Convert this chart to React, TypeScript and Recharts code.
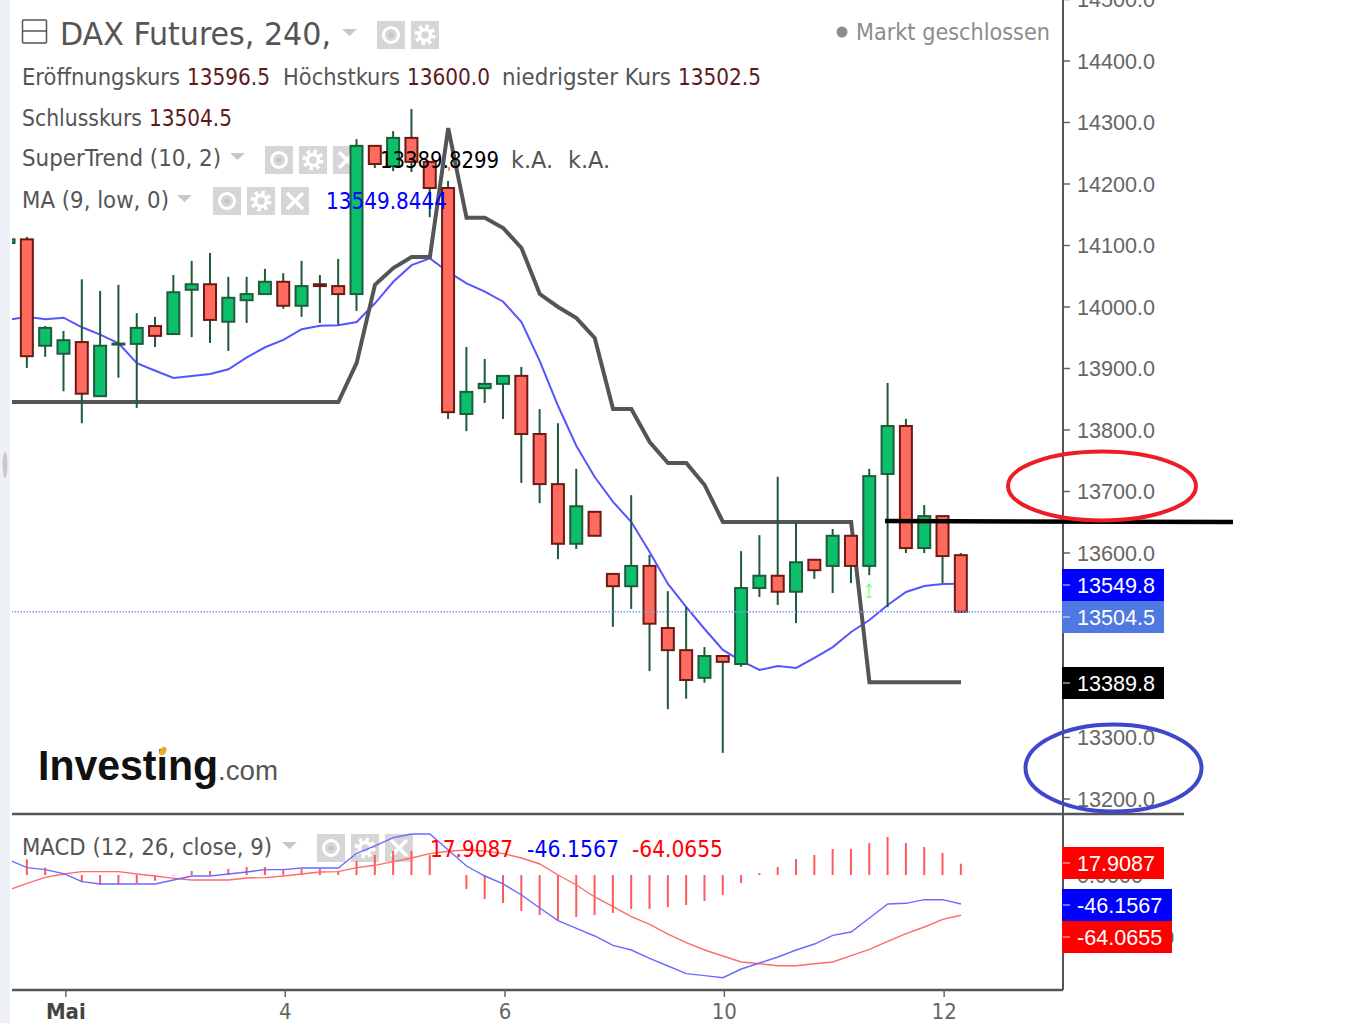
import { Bar, ComposedChart, Line, ReferenceLine, XAxis, YAxis } from 'recharts';

// index -1 is the candle cut off by the left edge of the plot
const firstIndex = -1;
const opens = [14104, 14110, 13937, 13924, 13943, 13855, 13939, 13940, 13969, 13956, 14028, 14037, 13976, 14011, 14021, 14041, 14002, 14037, 14034, 14021, 14262, 14229, 14275, 14236, 14193.5, 13826, 13868, 13875, 13888, 13793.5, 13712, 13615, 13667, 13566, 13546, 13579, 13478, 13442, 13397, 13432.5, 13419.5, 13543, 13563, 13537, 13589, 13579, 13628, 13579, 13728.5, 13806.5, 13608, 13660, 13596.5];
const highs = [14112, 14114, 13969, 13961, 14045, 14026, 14036, 13990, 13984, 14052, 14075, 14088, 14049, 14049, 14062, 14055, 14075, 14052, 14078, 14273, 14262, 14286, 14322, 14236, 14205, 13935, 13915.5, 13888, 13902.5, 13834, 13811, 13737, 13667, 13566, 13694, 13597, 13538, 13512, 13447, 13432.5, 13603, 13629, 13724, 13650, 13589, 13639, 13628, 13737, 13876.5, 13818, 13678, 13660, 13600];
const lows = [14100, 13901, 13919, 13863, 13811, 13855, 13885, 13836, 13935, 13956, 13951, 13941.5, 13928.5, 13974, 14021, 13997, 13984, 13974, 13971, 13993.5, 14226, 14221, 14219.5, 14146, 13818, 13798, 13844, 13818, 13714, 13681, 13590, 13606.5, 13628, 13480, 13509, 13408, 13346, 13363, 13389, 13275, 13415, 13528.5, 13515.5, 13486, 13558, 13535, 13551, 13564, 13512, 13600, 13600, 13551, 13502.5];
const closes = [14110, 13920, 13966, 13946, 13859, 13937, 13940.5, 13966, 13953, 14024, 14037, 13979, 14015, 14021, 14041, 14002, 14034, 14034, 14021, 14262, 14232.5, 14275, 14236, 14193.5, 13829, 13862, 13875, 13888, 13793.5, 13712, 13615, 13676, 13628, 13546, 13579, 13485, 13442, 13393.5, 13432.5, 13423, 13543, 13563, 13537, 13585, 13572, 13628, 13579, 13725, 13806.5, 13608, 13660, 13595, 13504.5];
const superTrend = [13845.5, 13845.5, 13845.5, 13845.5, 13845.5, 13845.5, 13845.5, 13845.5, 13845.5, 13845.5, 13845.5, 13845.5, 13845.5, 13845.5, 13845.5, 13845.5, 13845.5, 13845.5, 13845.5, 13909, 14036, 14063.4, 14081.3, 14081.3, 14291, 14145, 14145, 14128.5, 14096, 14021, 14000, 13982, 13949.6, 13834, 13834, 13780.5, 13746.4, 13746.4, 13710.6, 13650.4, 13650.4, 13650.4, 13650.4, 13650.4, 13650.4, 13650.4, 13650.4, 13389.8, 13389.8, 13389.8, 13389.8, 13389.8, 13389.8];
const maLow = [13979, 13984, 13980, 13982.6, 13967, 13955, 13941, 13908.5, 13896.4, 13884.6, 13887.8, 13891, 13898.7, 13918, 13934.5, 13946.4, 13963.8, 13969.6, 13970.3, 13975.6, 14006, 14041, 14068, 14079, 14057, 14038.5, 14025, 14008.6, 13975.6, 13912, 13839, 13774, 13723.6, 13683, 13650.4, 13601.6, 13549.6, 13512, 13476.4, 13442.3, 13424.4, 13409.8, 13416.3, 13413, 13429.3, 13447, 13471.6, 13491, 13515.5, 13536.6, 13546.4, 13549.6, 13549.8];
const macdLine = [23.9, 11.7, 8.5, 2.1, -10.6, -14.3, -14.3, -14.3, -14.3, -8, -1.6, -1.6, 1.6, 4.8, 8.5, 8.5, 11.1, 11.1, 11.1, 34.5, 46.2, 59.4, 65.3, 65.3, 39.8, 14.3, -1.6, -14.3, -31.8, -52.5, -72.7, -84.9, -97.1, -112, -119.4, -132.7, -144.9, -157.1, -160.3, -163.5, -149.7, -140.1, -130.6, -119.4, -109.9, -96.1, -90.8, -68.5, -46.2, -45.1, -39.3, -39.3, -46.1567];
const signalLine = [-24, -13.3, -3.7, 1.6, 5.3, 5.3, 5.3, 1.6, -1.6, -5.3, -8, -8, -8, -4.8, -4.2, -1.6, 1.6, 4.8, 5.3, 11.7, 15.4, 21.2, 27.1, 34, 37.7, 39.8, 38.2, 34, 27.1, 17.5, 0, -15.9, -35, -50.4, -66.4, -78.6, -94, -107.8, -119.4, -129, -138.5, -141.2, -144.4, -144.4, -141.2, -138.5, -128.5, -118.4, -105.6, -93.4, -82.8, -70.6, -64.0655];
const histogram = [null, 25, 11.7, 1.5, -11.7, -15.4, -15.4, -13.2, -9.1, -1, 6.4, 6.4, 9.6, 12.7, 12.7, 9.6, 9.6, 9.6, 6.4, 22.3, 31.8, 38.2, 38.2, 31.8, 0, -22.3, -38.2, -44.6, -57.3, -63.7, -73.2, -66.9, -63.7, -60.5, -54.1, -54.1, -51, -47.8, -41.4, -31.8, -12.7, 3.2, 12.7, 25.5, 31.8, 41.4, 41.4, 51, 60.5, 51, 44.6, 35, 17.9087];

const priceTicks = [13200, 13300, 13400, 13500, 13600, 13700, 13800, 13900, 14000, 14100, 14200, 14300, 14400, 14500];
const macdTicks = [-100, 0];
const dateTicks = [2.12, 14.1, 26.1, 38.08, 50.08];
const dateLabels = ['Mai', '4', '6', '10', '12'];
const lastClose = 13504.5;

const rows = opens.map((open, i) => ({
  i: firstIndex + i,
  open,
  high: highs[i],
  low: lows[i],
  close: closes[i],
  range: [lows[i], highs[i]],
  superTrend: superTrend[i],
  maLow: maLow[i],
  macd: macdLine[i],
  signal: signalLine[i],
  hist: histogram[i],
}));

const xDomain: [number, number] = [-0.82, 56.57];
const uiFont = '"DejaVu Sans Condensed", "DejaVu Sans", sans-serif';
const axisFont = '"Liberation Sans", Arial, sans-serif';
const grey = '#555';
const axisText = { fill: '#666', fontSize: 21.6, fontFamily: axisFont };

function Candle(props: any) {
  const { x, y, width, height, payload } = props;
  const { open, close, high, low } = payload;
  const perUnit = height / (high - low || 1);
  const top = y + (high - Math.max(open, close)) * perUnit;
  const bottom = y + (high - Math.min(open, close)) * perUnit;
  const up = close >= open;
  const mid = x + width / 2;
  return (
    <g>
      <line x1={mid} x2={mid} y1={y} y2={y + height} stroke="#1d5a3a" strokeWidth={2} />
      <rect
        x={x + 1}
        y={top}
        width={width - 2}
        height={Math.max(bottom - top, 1)}
        fill={up ? '#0bbf6b' : '#ff6b5e'}
        stroke={up ? '#1f5c3c' : '#6e1a14'}
        strokeWidth={2}
      />
    </g>
  );
}

function DateTick(props: any) {
  const { x, index } = props;
  return (
    <text
      x={x}
      y={205}
      textAnchor="middle"
      fontFamily={uiFont}
      fontSize={22}
      fontWeight={index === 0 ? 'bold' : 'normal'}
      fill={index === 0 ? '#444' : '#666'}
    >
      {dateLabels[index]}
    </text>
  );
}

function Label({ x, y, w, size = 23, fill = grey, children }: any) {
  return (
    <text x={x} y={y} textLength={w} lengthAdjust="spacingAndGlyphs" fontFamily={uiFont} fontSize={size} fill={fill}>
      {children}
    </text>
  );
}

function ViewIcon({ x, y }: any) {
  return (
    <g>
      <rect x={x} y={y} width={28} height={28} fill="#d6d6d6" />
      <circle cx={x + 14} cy={y + 14} r={7.5} fill="none" stroke="#fff" strokeWidth={3} />
      <circle cx={x + 14} cy={y + 14} r={2.5} fill="#c4c4c4" />
    </g>
  );
}

function GearIcon({ x, y }: any) {
  return (
    <g>
      <rect x={x} y={y} width={28} height={28} fill="#d6d6d6" />
      <circle cx={x + 14} cy={y + 14} r={8.5} fill="none" stroke="#fff" strokeWidth={4} strokeDasharray="3.4 3.3" />
      <circle cx={x + 14} cy={y + 14} r={5.5} fill="none" stroke="#fff" strokeWidth={3.5} />
    </g>
  );
}

function CloseIcon({ x, y }: any) {
  return (
    <g>
      <rect x={x} y={y} width={28} height={28} fill="#d6d6d6" />
      <path d={`M${x + 6} ${y + 6}L${x + 22} ${y + 22}M${x + 22} ${y + 6}L${x + 6} ${y + 22}`} stroke="#fff" strokeWidth={3.5} />
    </g>
  );
}

function Caret({ x, y, w = 15 }: any) {
  return <path d={`M${x} ${y}h${w}l${-w / 2} 7z`} fill="#c4c8c8" />;
}

function PriceBox({ y, w = 102, fill, children }: any) {
  return (
    <g>
      <rect x={1062} y={y} width={w} height={32} fill={fill} />
      <line x1={1063} x2={1070} y1={y + 16} y2={y + 16} stroke="#fff" strokeOpacity={0.6} strokeWidth={1.5} />
      <text x={1077} y={y + 23.5} fontFamily={axisFont} fontSize={21.6} fill="#fff">
        {children}
      </text>
    </g>
  );
}

const layer = { position: 'absolute', left: 0, top: 0 } as const;

export default function App() {
  return (
    <div style={{ position: 'absolute', left: 0, top: 0, width: 1353, height: 1023, overflow: 'hidden', background: '#fff' }}>
      <svg width={1353} height={1023} style={layer}>
        <rect x={0} y={0} width={10} height={1023} fill="#edf1f6" />
        <ellipse cx={5} cy={465} rx={2.5} ry={13} fill="#c9c9c9" />
        <rect x={22.5} y={20} width={24} height={23} fill="none" stroke={grey} strokeWidth={1.5} rx={1} />
        <line x1={23} x2={46} y1={31} y2={31} stroke={grey} strokeWidth={1.5} />
        <Caret x={342} y={29} />
        <ViewIcon x={377} y={21} />
        <GearIcon x={411} y={21} />
        <Caret x={230} y={153} />
        <ViewIcon x={265} y={146} />
        <GearIcon x={299} y={146} />
        <CloseIcon x={333} y={146} />
        <Caret x={177} y={195} />
        <ViewIcon x={213} y={187} />
        <GearIcon x={247} y={187} />
        <CloseIcon x={281} y={187} />
        <Caret x={282} y={842} />
        <ViewIcon x={317} y={834} />
        <GearIcon x={351} y={834} />
        <CloseIcon x={385} y={834} />

        <text x={38} y={780} textLength={180} lengthAdjust="spacingAndGlyphs" fontFamily={axisFont} fontWeight="bold" fontSize={42} fill="#111">
          Investing
        </text>
        <text x={218} y={780} textLength={60} lengthAdjust="spacingAndGlyphs" fontFamily={axisFont} fontSize={27} fill="#555">
          .com
        </text>
        <ellipse cx={163} cy={751} rx={3} ry={4.5} transform="rotate(30 163 751)" fill="#f5a623" />
      </svg>

      <div style={{ position: 'absolute', left: 0, top: -20 }}>
        <ComposedChart width={1353} height={834} data={rows} margin={{ top: 0, right: 0, bottom: 0, left: 12 }}>
          <XAxis dataKey="i" type="number" domain={xDomain} allowDataOverflow hide />
          <YAxis
            orientation="right"
            width={290}
            domain={[13175.6, 14531.7]}
            allowDataOverflow
            ticks={priceTicks}
            interval={0}
            tickFormatter={(v: number) => v.toFixed(1)}
            tick={axisText}
            tickSize={7}
            tickMargin={7}
            axisLine={{ stroke: grey, strokeWidth: 2 }}
            tickLine={{ stroke: '#666', strokeWidth: 1.5 }}
          />
          <Line dataKey="maLow" stroke="#5555ff" strokeWidth={2} dot={false} isAnimationActive={false} zIndex={310} />
          <Line dataKey="superTrend" stroke="#555" strokeWidth={4} dot={false} isAnimationActive={false} zIndex={320} />
          <Bar dataKey="range" barSize={14} shape={<Candle />} isAnimationActive={false} zIndex={330} />
          <ReferenceLine y={lastClose} stroke="#7f9df5" strokeWidth={1.5} strokeDasharray="1.5 1.5" zIndex={340} />
        </ComposedChart>
      </div>

      <div style={{ position: 'absolute', left: 0, top: 814 }}>
        <ComposedChart width={1353} height={209} data={rows} margin={{ top: 0, right: 0, bottom: 0, left: 12 }}>
          <XAxis
            dataKey="i"
            type="number"
            domain={xDomain}
            allowDataOverflow
            ticks={dateTicks}
            interval={0}
            height={33}
            tick={<DateTick />}
            tickSize={7}
            axisLine={{ stroke: grey, strokeWidth: 2.5 }}
            tickLine={{ stroke: '#666', strokeWidth: 1.5 }}
          />
          <YAxis
            orientation="right"
            width={290}
            domain={[-183.1, 97.1]}
            allowDataOverflow
            ticks={macdTicks}
            interval={0}
            tickFormatter={(v: number) => v.toFixed(4)}
            tick={axisText}
            tickSize={7}
            tickMargin={7}
            axisLine={{ stroke: grey, strokeWidth: 2 }}
            tickLine={false}
          />
          <Bar dataKey="hist" barSize={2} fill="#ff5a5a" isAnimationActive={false} />
          <Line dataKey="signal" stroke="#ff6a6a" strokeWidth={1.4} dot={false} isAnimationActive={false} />
          <Line dataKey="macd" stroke="#6a6aff" strokeWidth={1.4} dot={false} isAnimationActive={false} />
        </ComposedChart>
      </div>

      <svg width={1353} height={1023} style={layer}>
        <line x1={12} x2={1184} y1={814} y2={814} stroke={grey} strokeWidth={2.5} />

        <Label x={60} y={45} w={271} size={32}>DAX Futures, 240,</Label>
        <circle cx={842} cy={32} r={5.5} fill="#8c8c8c" />
        <Label x={856} y={40} w={194} fill="#8c8c8c">Markt geschlossen</Label>

        <Label x={22} y={85} w={158}>Eröffnungskurs</Label>
        <Label x={187} y={85} w={83} fill="#5c1a1a">13596.5</Label>
        <Label x={283} y={85} w={117}>Höchstkurs</Label>
        <Label x={407} y={85} w={83} fill="#5c1a1a">13600.0</Label>
        <Label x={502} y={85} w={169}>niedrigster Kurs</Label>
        <Label x={678} y={85} w={83} fill="#5c1a1a">13502.5</Label>
        <Label x={22} y={126} w={120}>Schlusskurs</Label>
        <Label x={149} y={126} w={83} fill="#5c1a1a">13504.5</Label>

        <Label x={22} y={166} w={199}>SuperTrend (10, 2)</Label>
        <Label x={380} y={168} w={119} fill="#000">13389.8299</Label>
        <Label x={511} y={168} w={42}>k.A.</Label>
        <Label x={568} y={168} w={42}>k.A.</Label>
        <Label x={22} y={208} w={147}>MA (9, low, 0)</Label>
        <Label x={326} y={209} w={121} fill="#0000ff">13549.8444</Label>

        <Label x={22} y={855} w={250}>MACD (12, 26, close, 9)</Label>
        <Label x={430} y={857} w={83} fill="#ff0000">17.9087</Label>
        <Label x={527} y={857} w={92} fill="#0000ff">-46.1567</Label>
        <Label x={632} y={857} w={91} fill="#ff0000">-64.0655</Label>

        <path d="M869 584v13M866.5 587l2.5-3 2.5 3M866.5 597h5" stroke="#7dff7d" strokeWidth={1.3} fill="none" />
        <path d="M449 167v4" stroke="#ff6060" strokeWidth={1.5} />

        <PriceBox y={569} fill="#0000ff">13549.8</PriceBox>
        <PriceBox y={601} fill="#4f78e0">13504.5</PriceBox>
        <PriceBox y={667} fill="#000">13389.8</PriceBox>
        <PriceBox y={847} fill="#ff0000">17.9087</PriceBox>
        <PriceBox y={889} w={110} fill="#0000ff">-46.1567</PriceBox>
        <PriceBox y={921} w={110} fill="#ff0000">-64.0655</PriceBox>

        <line x1={885} x2={1233} y1={521} y2={522} stroke="#000" strokeWidth={4.5} />
        <ellipse cx={1102} cy={486} rx={94} ry={34.5} fill="none" stroke="#ee1c24" strokeWidth={4} />
        <ellipse cx={1113.5} cy={768} rx={88} ry={43.5} fill="none" stroke="#3f48cc" strokeWidth={4} />
      </svg>
    </div>
  );
}
